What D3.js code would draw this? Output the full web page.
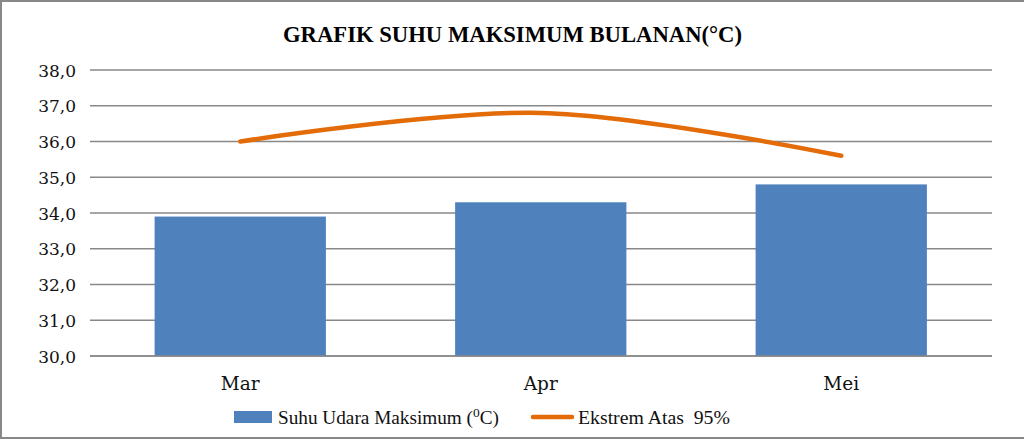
<!DOCTYPE html>
<html><head><meta charset="utf-8">
<script src="https://cdn.jsdelivr.net/npm/d3@7"></script>
<style>html,body{margin:0;padding:0;background:#fff;}svg{display:block;}</style>
</head><body>
<svg id="c" width="1024" height="440"></svg>
<script>
const categories = ["Mar", "Apr", "Mei"];
const barValues = [33.9, 34.3, 34.8];
const lineValues = [36.0, 36.8, 35.6];
const yTicks = [30, 31, 32, 33, 34, 35, 36, 37, 38];
const titleText = "GRAFIK SUHU MAKSIMUM BULANAN(\u00B0C)";
const barLabel = "Suhu Udara Maksimum (";
const lineLabel = "Ekstrem Atas  95%";

const svg = d3.select("#c");
const serif = "'DejaVu Serif', 'Liberation Serif', serif";
const serif2 = "'Liberation Serif', serif";

function fit(sel, target) {
  const w = sel.node().getComputedTextLength();
  const fs = parseFloat(sel.attr("font-size"));
  sel.attr("font-size", (fs * target / w).toFixed(2));
}

// outer border
svg.append("rect").attr("x", 1).attr("y", 1).attr("width", 1030).attr("height", 437)
  .attr("fill", "#fff").attr("stroke", "#888").attr("stroke-width", 2);

const x = d3.scaleBand().domain(categories).range([90, 991.5]).paddingInner(0.43).paddingOuter(0.215);
const y = d3.scaleLinear().domain([30, 38]).range([356, 70]);

// gridlines
svg.append("g").selectAll("line").data(yTicks).join("line")
  .attr("x1", 90).attr("x2", 992)
  .attr("y1", d => y(d)).attr("y2", d => y(d))
  .attr("stroke", "#888").attr("stroke-width", 1.6);

// y axis labels
const yAxis = svg.append("g").attr("transform", "translate(76,0)")
  .call(d3.axisLeft(y).tickValues(yTicks).tickSize(0).tickPadding(0).tickFormat(d => d.toFixed(1).replace(".", ",")));
yAxis.select(".domain").remove();
yAxis.selectAll("text").attr("font-family", serif).attr("font-size", 17).attr("fill", "#111").attr("dy", "0.36em");

// bars
svg.append("g").selectAll("rect").data(categories).join("rect")
  .attr("x", d => x(d)).attr("width", x.bandwidth())
  .attr("y", (d, i) => y(barValues[i])).attr("height", (d, i) => y(30) - y(barValues[i]))
  .attr("fill", "#4F81BD");

// baseline
svg.append("line").attr("x1", 90).attr("x2", 992).attr("y1", y(30)).attr("y2", y(30))
  .attr("stroke", "#888").attr("stroke-width", 1.6);

// x axis labels
const xAxis = svg.append("g").attr("transform", "translate(0,390)")
  .call(d3.axisBottom(x).tickSize(0).tickPadding(0));
xAxis.select(".domain").remove();
xAxis.selectAll("text").attr("font-family", serif).attr("font-size", 18.5).attr("fill", "#111").attr("dy", 0).attr("y", 0);

// line
const line = d3.line().x((d, i) => x(categories[i]) + x.bandwidth() / 2).y(d => y(d)).curve(d3.curveCatmullRom.alpha(0.5));
svg.append("path").datum(lineValues).attr("d", line)
  .attr("fill", "none").attr("stroke", "#E36C09").attr("stroke-width", 4.5).attr("stroke-linecap", "round");

// title
const t = svg.append("text").attr("x", 512.5).attr("y", 42).attr("text-anchor", "middle")
  .attr("font-family", serif2).attr("font-weight", "bold").attr("font-size", 24).attr("fill", "#000")
  .text(titleText);
fit(t, 459);

// legend
svg.append("rect").attr("x", 234).attr("y", 411).attr("width", 38).attr("height", 12).attr("fill", "#4F81BD");
const l1 = svg.append("text").attr("x", 278).attr("y", 424).attr("font-family", serif2).attr("font-size", 18).attr("fill", "#111");
l1.append("tspan").text(barLabel);
l1.append("tspan").attr("dy", -7).attr("font-size", "0.7em").text("0");
l1.append("tspan").attr("dy", 7).text("C)");
fit(l1, 221);
svg.append("line").attr("x1", 533).attr("x2", 572).attr("y1", 417).attr("y2", 417)
  .attr("stroke", "#E36C09").attr("stroke-width", 4.5).attr("stroke-linecap", "round");
const l2 = svg.append("text").attr("x", 578).attr("y", 424).attr("font-family", serif2).attr("font-size", 18).attr("fill", "#111")
  .attr("xml:space", "preserve").style("white-space", "pre").text(lineLabel);
fit(l2, 152);
</script>
</body></html>
